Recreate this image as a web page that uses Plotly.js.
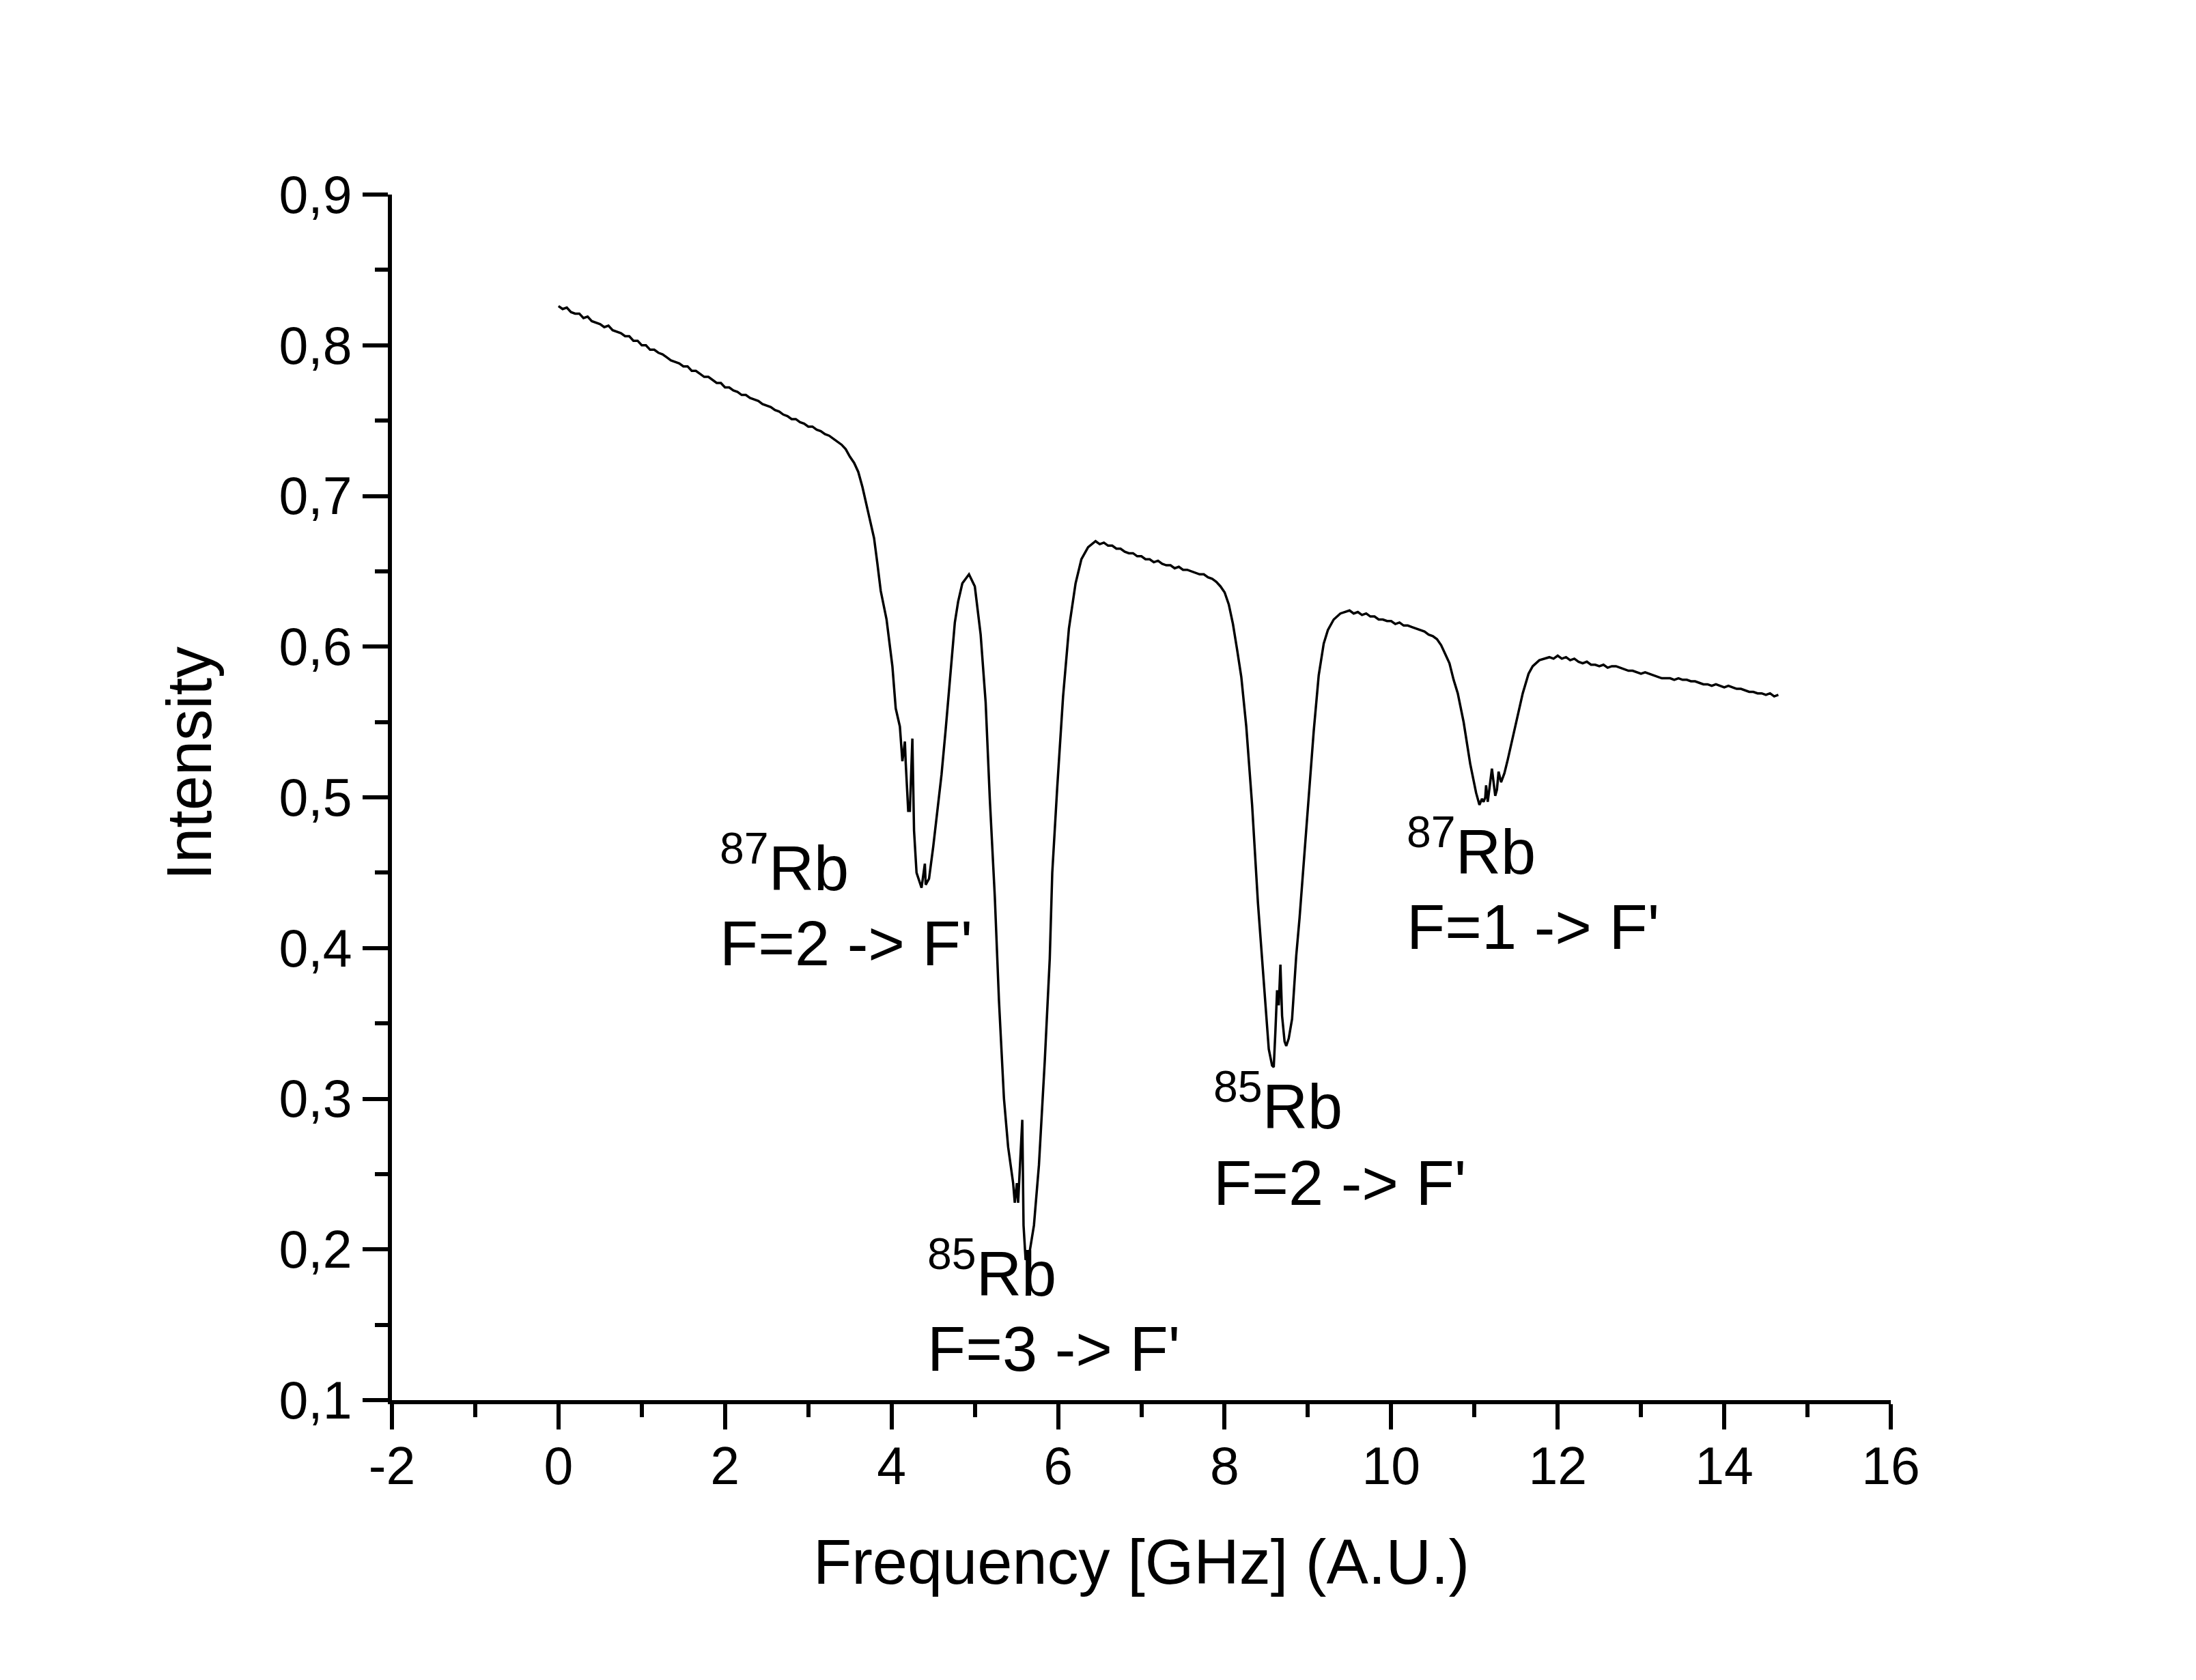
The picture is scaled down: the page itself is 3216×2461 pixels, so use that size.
<!DOCTYPE html>
<html>
<head>
<meta charset="utf-8">
<script src="https://cdn.plot.ly/plotly-3.0.1.min.js"></script>
<style>
  html, body { margin: 0; padding: 0; background: #fff; }
  #spectrum { width: 3216px; height: 2461px; }
</style>
</head>
<body>
<div id="spectrum"></div>
<script>
// absorption spectrum, one row per stretch of the sweep
var freqGHz = [
    0.00, 0.05, 0.10, 0.15, 0.20, 0.25, 0.30, 0.35, 0.40, 0.45, 0.50, 0.55, 0.60, 0.65, 0.70, 0.75, 0.80, 0.85, 0.90, 0.95,
    1.00, 1.05, 1.10, 1.15, 1.20, 1.25, 1.30, 1.35, 1.40, 1.45, 1.50, 1.55, 1.60, 1.65, 1.70, 1.75, 1.80, 1.85, 1.90, 1.95,
    2.00, 2.05, 2.10, 2.15, 2.20, 2.25, 2.30, 2.35, 2.40, 2.45, 2.50, 2.55, 2.60, 2.65, 2.70, 2.75, 2.80, 2.85, 2.90, 2.95,
    3.00, 3.05, 3.10, 3.15, 3.20, 3.25, 3.30, 3.35,
    3.40, 3.45, 3.50, 3.55, 3.60, 3.65, 3.70, 3.75, 3.79, 3.83, 3.87, 3.94, 4.01, 4.05, 4.10, 4.13, 4.16, 4.17, 4.20, 4.22, 4.25,
    4.27, 4.30, 4.36, 4.40, 4.41, 4.45, 4.50, 4.55, 4.60, 4.65, 4.69, 4.76, 4.80, 4.85, 4.93, 5.00, 5.07, 5.13, 5.18, 5.24,
    5.29, 5.35, 5.40, 5.46, 5.48, 5.505, 5.52, 5.54, 5.57, 5.585, 5.61, 5.66, 5.71, 5.77, 5.84, 5.90, 5.93, 5.99, 6.06, 6.13,
    6.21, 6.28, 6.36, 6.45,
    6.50, 6.55, 6.60, 6.65, 6.70, 6.75, 6.80, 6.85, 6.90, 6.95, 7.00, 7.05, 7.10, 7.15, 7.20, 7.25, 7.30, 7.35, 7.40, 7.45,
    7.50, 7.55, 7.60, 7.65, 7.70, 7.75, 7.80, 7.85, 7.90, 7.95,
    8.00, 8.05, 8.10, 8.15, 8.20, 8.26, 8.33, 8.40, 8.48, 8.53, 8.57, 8.59, 8.61, 8.63, 8.65, 8.67, 8.69, 8.72, 8.74, 8.77,
    8.81, 8.86, 8.90, 8.98, 9.07, 9.13, 9.19, 9.24, 9.31, 9.39, 9.45,
    9.50, 9.55, 9.60, 9.65, 9.70, 9.75, 9.80, 9.85, 9.90, 9.95, 10.00, 10.05, 10.10, 10.15, 10.20, 10.25, 10.30, 10.35, 10.40, 10.45,
    10.50, 10.55,
    10.60, 10.65, 10.70, 10.75, 10.80, 10.87, 10.95, 11.02, 11.06, 11.09, 11.11, 11.13, 11.14, 11.16, 11.18, 11.21, 11.23, 11.25, 11.27, 11.29,
    11.32, 11.36, 11.40, 11.45, 11.50, 11.58, 11.65, 11.70, 11.78, 11.85,
    11.90, 11.95, 12.00, 12.05, 12.10, 12.15, 12.20, 12.25, 12.30, 12.35, 12.40, 12.45, 12.50, 12.55, 12.60, 12.65, 12.70, 12.75, 12.80, 12.85,
    12.90, 12.95, 13.00, 13.05, 13.10, 13.15, 13.20, 13.25, 13.30, 13.35, 13.40, 13.45, 13.50, 13.55, 13.60, 13.65, 13.70, 13.75, 13.80, 13.85,
    13.90, 13.95, 14.00, 14.05, 14.10, 14.15, 14.20, 14.25, 14.30, 14.35, 14.40, 14.45, 14.50, 14.55, 14.60, 14.65
];

var intensity = [
    0.826, 0.824, 0.825, 0.822, 0.821, 0.821, 0.818, 0.819, 0.816, 0.815, 0.814, 0.812, 0.813, 0.810, 0.809, 0.808, 0.806, 0.806, 0.803, 0.803,
    0.800, 0.800, 0.797, 0.797, 0.795, 0.794, 0.792, 0.790, 0.789, 0.788, 0.786, 0.786, 0.783, 0.783, 0.781, 0.779, 0.779, 0.777, 0.775, 0.775,
    0.772, 0.772, 0.770, 0.769, 0.767, 0.767, 0.765, 0.764, 0.763, 0.761, 0.760, 0.759, 0.757, 0.756, 0.754, 0.753, 0.751, 0.751, 0.749, 0.748,
    0.746, 0.746, 0.744, 0.743, 0.741, 0.740, 0.738, 0.736,
    0.734, 0.731, 0.726, 0.722, 0.716, 0.706, 0.694, 0.683, 0.672, 0.655, 0.637, 0.618, 0.587, 0.559, 0.547, 0.524, 0.537, 0.523, 0.491, 0.491, 0.539,
    0.478, 0.450, 0.440, 0.456, 0.442, 0.446, 0.467, 0.490, 0.515, 0.545, 0.571, 0.616, 0.630, 0.642, 0.648, 0.640, 0.608, 0.563, 0.499, 0.434,
    0.365, 0.300, 0.268, 0.244, 0.231, 0.244, 0.231, 0.254, 0.286, 0.216, 0.193, 0.199, 0.216, 0.256, 0.325, 0.393, 0.450, 0.507, 0.567, 0.612,
    0.642, 0.658, 0.666, 0.670,
    0.668, 0.669, 0.667, 0.667, 0.665, 0.665, 0.663, 0.662, 0.662, 0.660, 0.660, 0.658, 0.658, 0.656, 0.657, 0.655, 0.654, 0.654, 0.652, 0.653,
    0.651, 0.651, 0.650, 0.649, 0.648, 0.648, 0.646, 0.645, 0.643, 0.640,
    0.636, 0.628, 0.615, 0.598, 0.580, 0.547, 0.495, 0.430, 0.369, 0.333, 0.322, 0.321, 0.345, 0.372, 0.362, 0.389, 0.355, 0.338, 0.335, 0.340,
    0.353, 0.395, 0.420, 0.478, 0.544, 0.581, 0.602, 0.611, 0.618, 0.622, 0.623,
    0.624, 0.622, 0.623, 0.621, 0.622, 0.620, 0.620, 0.618, 0.618, 0.617, 0.617, 0.615, 0.616, 0.614, 0.614, 0.613, 0.612, 0.611, 0.610, 0.608,
    0.607, 0.605,
    0.601, 0.595, 0.589, 0.578, 0.569, 0.550, 0.522, 0.503, 0.495, 0.499, 0.497, 0.500, 0.508, 0.497, 0.505, 0.519, 0.510, 0.501, 0.505, 0.517,
    0.510, 0.516, 0.525, 0.537, 0.550, 0.569, 0.582, 0.587, 0.591, 0.592,
    0.593, 0.592, 0.594, 0.592, 0.593, 0.591, 0.592, 0.590, 0.589, 0.590, 0.588, 0.588, 0.587, 0.588, 0.586, 0.587, 0.587, 0.586, 0.585, 0.584,
    0.584, 0.583, 0.582, 0.583, 0.582, 0.581, 0.580, 0.579, 0.579, 0.579, 0.578, 0.579, 0.578, 0.578, 0.577, 0.577, 0.576, 0.575, 0.575, 0.574,
    0.575, 0.574, 0.573, 0.574, 0.573, 0.572, 0.572, 0.571, 0.570, 0.570, 0.569, 0.569, 0.568, 0.569, 0.567, 0.568
];

var xTickVals = [-2, 0, 2, 4, 6, 8, 10, 12, 14, 16];
var xTickText = ['-2', '0', '2', '4', '6', '8', '10', '12', '14', '16'];
var yTickVals = [0.1, 0.2, 0.3, 0.4, 0.5, 0.6, 0.7, 0.8, 0.9];
var yTickText = ['0,1', '0,2', '0,3', '0,4', '0,5', '0,6', '0,7', '0,8', '0,9'];

// peak labels: isotope line, transition line, where the text block starts
var labelIsotope = ['<sup>87</sup>Rb', '<sup>85</sup>Rb', '<sup>85</sup>Rb', '<sup>87</sup>Rb'];
var labelTransition = ["F=2 -> F'", "F=3 -> F'", "F=2 -> F'", "F=1 -> F'"];
var labelX = [1.92, 4.41, 7.85, 10.17];
var labelYTop = [0.456, 0.187, 0.298, 0.467];
var labelYBottom = [0.403, 0.134, 0.244, 0.414];

var fontFamily = 'Liberation Sans, Arial, sans-serif';

function buildAnnotations() {
    var notes = [];
    for (let i = 0; i < labelIsotope.length; i++) {
        notes.push({
            x: labelX[i], y: labelYTop[i], xref: 'x', yref: 'y',
            xanchor: 'left', yanchor: 'middle',
            text: labelIsotope[i], showarrow: false,
            font: { size: 92, color: '#000', family: fontFamily }
        });
        notes.push({
            x: labelX[i], y: labelYBottom[i], xref: 'x', yref: 'y',
            xanchor: 'left', yanchor: 'middle',
            text: labelTransition[i], showarrow: false,
            font: { size: 92, color: '#000', family: fontFamily }
        });
    }
    // y title sits a bit above the middle of the axis in the original
    notes.push({
        x: -0.1353, y: 0.528, xref: 'paper', yref: 'paper',
        xanchor: 'center', yanchor: 'middle', textangle: -90,
        text: 'Intensity', showarrow: false,
        font: { size: 92, color: '#000', family: fontFamily }
    });
    return notes;
}

var trace = {
    x: freqGHz,
    y: intensity,
    mode: 'lines',
    type: 'scatter',
    line: { color: '#000', width: 3.5 },
    hoverinfo: 'skip'
};

var layout = {
    width: 3216,
    height: 2461,
    margin: { l: 574, r: 447, t: 285, b: 410 },
    paper_bgcolor: '#fff',
    plot_bgcolor: '#fff',
    showlegend: false,
    font: { family: fontFamily, color: '#000', size: 77 },
    xaxis: {
        range: [-2, 16],
        tickmode: 'array',
        tickvals: xTickVals,
        ticktext: xTickText,
        ticks: 'outside',
        ticklen: 37,
        tickwidth: 6,
        tickcolor: '#000',
        ticklabelstandoff: -12,
        showline: true,
        linewidth: 6,
        linecolor: '#000',
        showgrid: false,
        zeroline: false,
        tickfont: { size: 77 },
        minor: { ticks: 'outside', ticklen: 19, tickwidth: 6, tickcolor: '#000', tick0: -2, dtick: 1, showgrid: false },
        title: { text: 'Frequency [GHz] (A.U.)', font: { size: 92 }, standoff: 68 }
    },
    yaxis: {
        range: [0.1, 0.9],
        tickmode: 'array',
        tickvals: yTickVals,
        ticktext: yTickText,
        ticks: 'outside',
        ticklen: 37,
        tickwidth: 6,
        tickcolor: '#000',
        showline: true,
        linewidth: 6,
        linecolor: '#000',
        showgrid: false,
        zeroline: false,
        tickfont: { size: 77 },
        minor: { ticks: 'outside', ticklen: 19, tickwidth: 6, tickcolor: '#000', tick0: 0.1, dtick: 0.05, showgrid: false }
    },
    annotations: buildAnnotations()
};

Plotly.newPlot('spectrum', [trace], layout, { displayModeBar: false, staticPlot: true });
</script>
</body>
</html>
